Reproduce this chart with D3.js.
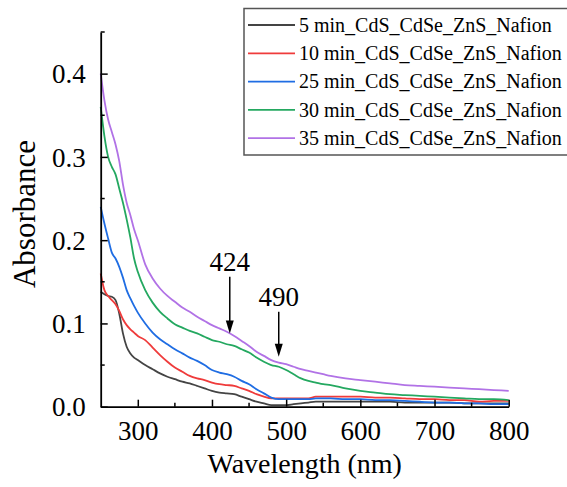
<!DOCTYPE html>
<html>
<head>
<meta charset="utf-8">
<script src="https://cdn.jsdelivr.net/npm/d3@7"></script>
</head>
<body style="margin:0">
<svg id="chart" width="567" height="487"></svg>
<script>
// Wavelength grid (nm) shared by all spectra
const wavelengths = [250,255,260,265,270,275,280,285,290,295,300,310,320,330,340,350,360,370,380,390,
  400,410,420,430,440,450,460,470,480,490,500,510,520,530,540,550,560,580,600,620,640,660,680,700,720,740,760,780,800];

const abs5min = [0.138,0.135,0.133,0.132,0.128,0.112,0.088,0.072,0.064,0.059,0.056,0.050,0.045,0.040,0.036,0.033,0.030,0.028,0.025,0.022,
  0.019,0.017,0.016,0.015,0.012,0.009,0.006,0.004,0.002,0.002,0.002,0.003,0.004,0.005,0.006,0.006,0.006,0.006,0.006,0.006,0.006,0.005,0.005,0.005,0.005,0.004,0.004,0.004,0.004];
const abs10min = [0.160,0.140,0.133,0.128,0.123,0.115,0.105,0.098,0.093,0.089,0.085,0.080,0.071,0.062,0.054,0.047,0.042,0.037,0.034,0.032,
  0.029,0.027,0.026,0.025,0.022,0.019,0.015,0.012,0.010,0.010,0.010,0.010,0.010,0.010,0.012,0.012,0.012,0.012,0.012,0.011,0.011,0.010,0.009,0.009,0.008,0.008,0.006,0.007,0.007];
const abs25min = [0.240,0.220,0.202,0.185,0.178,0.168,0.155,0.140,0.130,0.121,0.113,0.100,0.089,0.081,0.075,0.069,0.064,0.059,0.055,0.050,
  0.044,0.041,0.039,0.036,0.031,0.027,0.021,0.016,0.011,0.009,0.009,0.009,0.009,0.009,0.010,0.010,0.010,0.009,0.009,0.008,0.008,0.007,0.006,0.005,0.005,0.004,0.004,0.003,0.003];
const abs30min = [0.360,0.325,0.300,0.288,0.279,0.262,0.245,0.225,0.203,0.178,0.162,0.140,0.125,0.114,0.106,0.099,0.095,0.091,0.088,0.084,
  0.080,0.078,0.075,0.073,0.069,0.065,0.059,0.054,0.050,0.048,0.044,0.039,0.034,0.031,0.029,0.027,0.026,0.022,0.019,0.017,0.015,0.014,0.013,0.012,0.011,0.010,0.009,0.009,0.008];
const abs35min = [0.400,0.368,0.345,0.330,0.315,0.295,0.267,0.245,0.230,0.213,0.200,0.171,0.154,0.142,0.133,0.126,0.119,0.114,0.108,0.103,
  0.098,0.094,0.090,0.085,0.079,0.073,0.066,0.061,0.056,0.053,0.051,0.048,0.045,0.043,0.041,0.039,0.037,0.034,0.032,0.030,0.028,0.026,0.025,0.024,0.023,0.022,0.021,0.020,0.019];

const seriesNames = ["5 min_CdS_CdSe_ZnS_Nafion","10 min_CdS_CdSe_ZnS_Nafion","25 min_CdS_CdSe_ZnS_Nafion",
  "30 min_CdS_CdSe_ZnS_Nafion","35 min_CdS_CdSe_ZnS_Nafion"];
const seriesValues = [abs5min, abs10min, abs25min, abs30min, abs35min];
const seriesColors = ["#444444","#ef3b3b","#1f6de3","#24a860","#b172e6"];

const xTicks = [300,400,500,600,700,800];
const xMinorTicks = [350,450,550,650,750];
const yTicks = [0,0.1,0.2,0.3,0.4];
const yMinorTicks = [0.05,0.15,0.25,0.35,0.45];

// Peak markers: label, wavelength, arrow top and tip (absorbance)
const peakLabels = ["424","490"];
const peakWavelengths = [424,490];
const peakArrowTop = [0.156,0.114];
const peakArrowTip = [0.088,0.060];

const FONT = "Liberation Serif";

const svg = d3.select("#chart").attr("font-family", FONT).style("font-family", FONT);
const x = d3.scaleLinear().domain([250,800]).range([100.7,508.7]);
const y = d3.scaleLinear().domain([0,0.45]).range([406.7,32]);

// Spectra
const line = d3.line().curve(d3.curveMonotoneX)
  .x((d,i)=>x(wavelengths[i])).y(d=>y(d));
const plot = svg.append("g");
seriesValues.forEach((vals,k)=>{
  plot.append("path").datum(vals)
    .attr("d", line).attr("fill","none")
    .attr("stroke", seriesColors[k]).attr("stroke-width",1.8)
    .attr("stroke-linejoin","round");
});

// Axes (ticks pointing inward)
const xAxis = svg.append("g").attr("transform",`translate(0,${y(0)})`)
  .call(d3.axisBottom(x).tickValues(xTicks).tickSizeInner(-7).tickSizeOuter(0).tickPadding(14));
xAxis.append("g").selectAll("line").data(xMinorTicks).join("line")
  .attr("x1",d=>x(d)).attr("x2",d=>x(d)).attr("y1",0).attr("y2",-4)
  .attr("stroke","#000").attr("stroke-width",1.5);
const yAxis = svg.append("g").attr("transform",`translate(${x(250)},0)`)
  .call(d3.axisLeft(y).tickValues(yTicks).tickFormat(d3.format(".1f")).tickSizeInner(-7).tickSizeOuter(0).tickPadding(15));
yAxis.append("g").selectAll("line").data(yMinorTicks).join("line")
  .attr("x1",0).attr("x2",4).attr("y1",d=>y(d)).attr("y2",d=>y(d))
  .attr("stroke","#000").attr("stroke-width",1.5);

[xAxis,yAxis].forEach(a=>{
  a.attr("font-family", FONT);
  a.select(".domain").attr("stroke","#000").attr("stroke-width",1.8);
  a.selectAll(".tick line").attr("stroke","#000").attr("stroke-width",1.5);
  a.selectAll(".tick text").attr("font-family", FONT).style("font-family", FONT)
    .attr("font-size",27).attr("fill","#000");
});
yAxis.selectAll(".tick text").attr("dy","0.34em");
xAxis.selectAll(".tick text").attr("dy","0.71em");

// Axis titles
svg.append("text").attr("x",(x.range()[0]+x.range()[1])/2).attr("y",473)
  .attr("text-anchor","middle").attr("font-size",28).style("font-family", FONT).text("Wavelength (nm)");
svg.append("text").attr("transform","translate(35,214) rotate(-90)")
  .attr("text-anchor","middle").attr("font-size",31).style("font-family", FONT).text("Absorbance");

// Peak annotations
peakLabels.forEach((lab,i)=>{
  const px = x(peakWavelengths[i]);
  const tip = y(peakArrowTip[i]);
  svg.append("line").attr("x1",px).attr("x2",px)
    .attr("y1",y(peakArrowTop[i])).attr("y2",tip-6)
    .attr("stroke","#000").attr("stroke-width",1.5);
  svg.append("path")
    .attr("d",`M${px-4},${tip-13}L${px+4},${tip-13}L${px},${tip}Z`)
    .attr("fill","#000");
  svg.append("text").attr("x",px).attr("y",y(peakArrowTop[i])-6)
    .attr("text-anchor","middle").attr("font-size",27).style("font-family", FONT).text(lab);
});

// Legend
const lg = svg.append("g");
lg.append("rect").attr("x",244).attr("y",8.5).attr("width",330).attr("height",146.5)
  .attr("fill","#fff").attr("stroke","#555").attr("stroke-width",1.5);
seriesNames.forEach((name,k)=>{
  const ry = 25 + k*28.3;
  lg.append("line").attr("x1",248).attr("x2",295).attr("y1",ry).attr("y2",ry)
    .attr("stroke",seriesColors[k]).attr("stroke-width",1.8);
  lg.append("text").attr("x",299).attr("y",ry).attr("dy","0.34em")
    .attr("font-size",20).style("font-family", FONT).text(name);
});
</script>
</body>
</html>
